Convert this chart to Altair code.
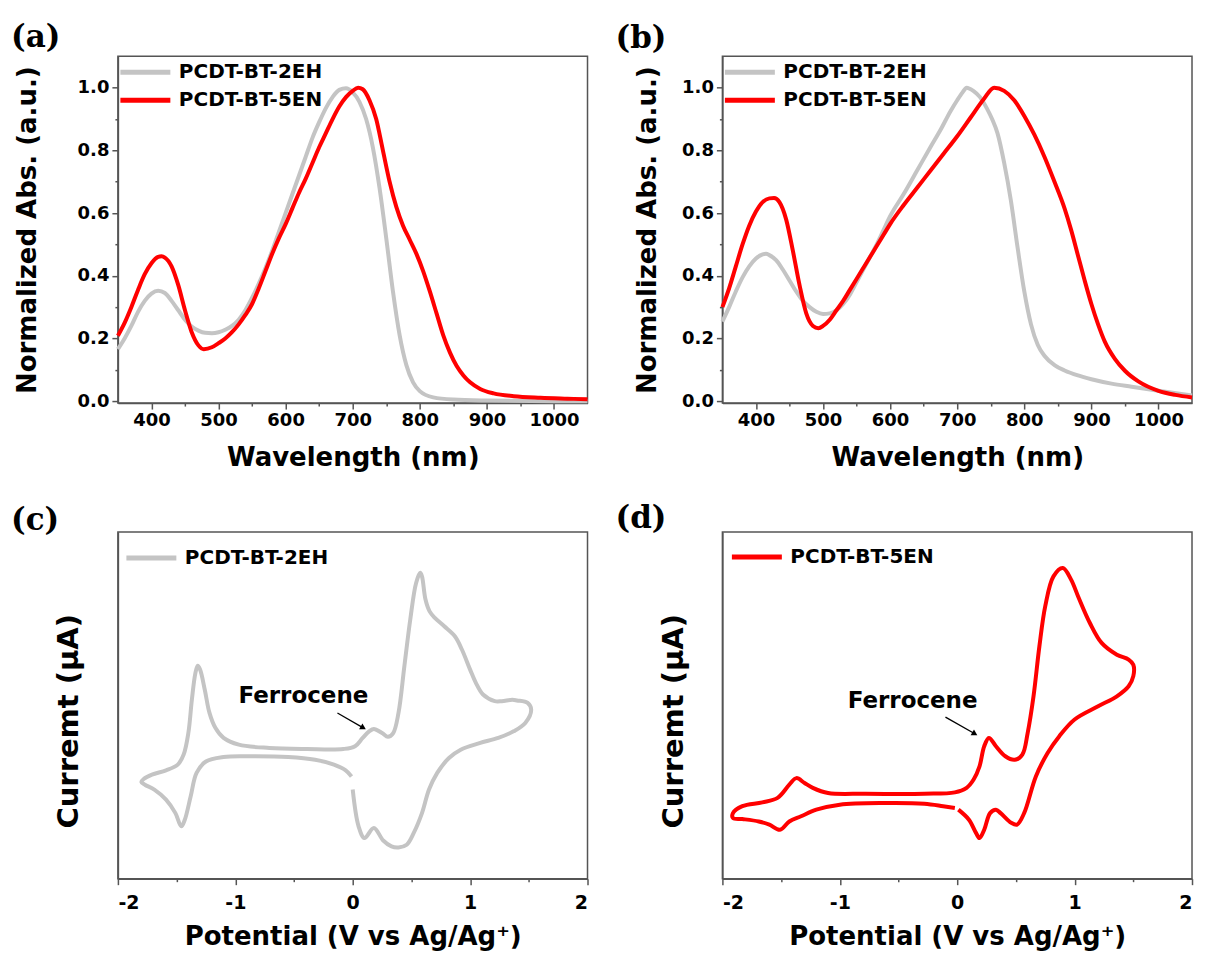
import altair as alt
import pandas as pd

S_2EH = "PCDT-BT-2EH"
S_5EN = "PCDT-BT-5EN"
GRAY = "#c4c4c4"
RED = "#ff0000"
FONT = "DejaVu Sans"

# ---------------- (a) absorption ----------------
a_2eh_wl = [350, 360, 370, 380, 390, 400, 410, 420, 430, 440, 450, 460, 470, 480, 490, 500,
            510, 520, 530, 540, 550, 560, 570, 580, 590, 600, 610, 620, 630, 640, 650, 660,
            670, 680, 690, 700, 710, 720, 730, 740, 750, 760, 770, 780, 790, 800, 820, 850,
            900, 1000, 1050]
a_2eh_abs = [0.166, 0.20, 0.24, 0.285, 0.32, 0.343, 0.352, 0.345, 0.32, 0.29, 0.26, 0.238,
             0.225, 0.218, 0.217, 0.22, 0.228, 0.24, 0.26, 0.29, 0.33, 0.375, 0.425, 0.48,
             0.54, 0.60, 0.66, 0.72, 0.78, 0.84, 0.89, 0.935, 0.97, 0.993, 0.998, 0.985,
             0.955, 0.90, 0.81, 0.68, 0.52, 0.35, 0.21, 0.115, 0.06, 0.032, 0.012, 0.005,
             0.002, 0.0, 0.0]
a_5en_wl = [350, 360, 370, 380, 390, 400, 410, 415, 420, 430, 440, 450, 460, 470, 478, 490,
            500, 510, 520, 530, 540, 550, 560, 570, 580, 590, 600, 610, 620, 630, 640, 650,
            660, 670, 680, 690, 700, 708, 715, 725, 735, 745, 755, 765, 775, 785, 795, 805,
            815, 825, 835, 845, 855, 865, 875, 890, 910, 940, 980, 1020, 1050]
a_5en_abs = [0.209, 0.25, 0.30, 0.355, 0.405, 0.44, 0.46, 0.462, 0.458, 0.43, 0.37, 0.29,
             0.22, 0.178, 0.166, 0.172, 0.185, 0.20, 0.22, 0.245, 0.275, 0.31, 0.36, 0.415,
             0.47, 0.52, 0.565, 0.615, 0.665, 0.71, 0.76, 0.81, 0.855, 0.90, 0.94, 0.97,
             0.99, 1.0, 0.995, 0.96, 0.90, 0.80, 0.70, 0.62, 0.56, 0.515, 0.47, 0.415,
             0.35, 0.28, 0.21, 0.155, 0.112, 0.082, 0.06, 0.039, 0.025, 0.016, 0.011,
             0.008, 0.006]

# ---------------- (b) absorption ----------------
b_2eh_wl = [350, 360, 370, 380, 390, 400, 410, 415, 420, 430, 440, 450, 460, 470, 480, 490,
            500, 510, 520, 530, 540, 550, 560, 570, 580, 590, 600, 620, 640, 660, 675, 690,
            700, 708, 714, 724, 734, 744, 752, 760, 770, 780, 790, 800, 810, 820, 830, 845,
            860, 880, 900, 930, 960, 1000, 1050]
b_2eh_abs = [0.254, 0.30, 0.35, 0.395, 0.43, 0.455, 0.468, 0.47, 0.466, 0.45, 0.42, 0.385,
             0.35, 0.32, 0.30, 0.285, 0.278, 0.28, 0.29, 0.31, 0.34, 0.38, 0.42, 0.46, 0.50,
             0.545, 0.59, 0.66, 0.735, 0.81, 0.865, 0.925, 0.96, 0.985, 1.0, 0.99, 0.97,
             0.935, 0.90, 0.855, 0.76, 0.64, 0.49, 0.35, 0.245, 0.18, 0.145, 0.115, 0.098,
             0.082, 0.07, 0.056, 0.046, 0.033, 0.018]
b_5en_wl = [350, 360, 370, 380, 390, 400, 410, 420, 427, 435, 445, 455, 465, 475, 485, 493,
            500, 510, 520, 530, 540, 550, 560, 570, 580, 590, 600, 620, 640, 660, 680, 700,
            720, 740, 755, 770, 785, 800, 815, 830, 845, 860, 870, 880, 890, 900, 910, 920,
            935, 950, 970, 1000, 1025, 1050]
b_5en_abs = [0.30, 0.36, 0.43, 0.50, 0.56, 0.605, 0.635, 0.647, 0.648, 0.635, 0.58, 0.48,
             0.37, 0.28, 0.24, 0.233, 0.24, 0.26, 0.29, 0.32, 0.355, 0.39, 0.425, 0.46,
             0.495, 0.53, 0.565, 0.625, 0.68, 0.735, 0.79, 0.845, 0.905, 0.965, 1.0, 0.99,
             0.96, 0.91, 0.85, 0.78, 0.70, 0.615, 0.545, 0.465, 0.385, 0.31, 0.245, 0.19,
             0.135, 0.097, 0.063, 0.033, 0.02, 0.012]

# ---------------- (c) cyclic voltammogram, PCDT-BT-2EH ----------------
c_potential = [0.0, 0.05, 0.10, 0.18, 0.26, 0.33, 0.39, 0.46, 0.52, 0.59, 0.65, 0.72, 0.82,
               0.92, 1.08, 1.24, 1.37, 1.47, 1.52, 1.49, 1.40, 1.36, 1.27, 1.21, 1.11, 1.05,
               1.0, 0.93, 0.87, 0.78, 0.70, 0.655, 0.62, 0.59, 0.575, 0.54, 0.49, 0.44, 0.39,
               0.345, 0.30, 0.25, 0.18, 0.14, 0.085, 0.02, -0.08, -0.39, -0.71, -0.97, -1.10,
               -1.17, -1.22, -1.26, -1.30, -1.32, -1.34, -1.37, -1.40, -1.44, -1.49, -1.59,
               -1.71, -1.78, -1.80, -1.77, -1.69, -1.59, -1.51, -1.46, -1.43, -1.38, -1.33,
               -1.25, -1.10, -0.88, -0.55, -0.32, -0.16, -0.06, -0.01]
c_current = [25.7, 15.1, 11.7, 14.6, 11.0, 9.3, 9.0, 9.8, 13.2, 18.9, 25.7, 30.5, 34.8, 37.2,
             39.1, 40.6, 42.5, 44.9, 48.75, 50.7, 51.4, 51.6, 51.2, 51.2, 53.1, 56.4, 60.3,
             66.1, 69.9, 72.8, 75.2, 77.1, 80.5, 87.2, 88.2, 85.3, 74.7, 61.25, 47.8, 42.0,
             40.9, 42.0, 43.2, 42.5, 40.6, 38.2, 37.4, 37.4, 37.7, 38.65, 40.6, 43.5, 47.8,
             54.5, 60.3, 61.4, 59.3, 51.6, 42.0, 35.8, 32.9, 31.25, 30.0, 28.75, 27.9, 27.1,
             25.7, 22.8, 18.9, 15.1, 17.0, 23.75, 30.5, 33.8, 35.1, 35.3, 35.1, 34.3, 32.9,
             31.25, 29.5]

# ---------------- (d) cyclic voltammogram, PCDT-BT-5EN ----------------
d_potential = [0.01, 0.10, 0.16, 0.19, 0.23, 0.28, 0.33, 0.37, 0.46, 0.51, 0.57, 0.67, 0.77,
               0.87, 1.0, 1.20, 1.36, 1.46, 1.50, 1.50, 1.46, 1.36, 1.23, 1.13, 1.03, 0.97,
               0.90, 0.82, 0.75, 0.70, 0.65, 0.60, 0.555, 0.49, 0.41, 0.33, 0.27, 0.23, 0.19,
               0.14, 0.08, -0.02, -0.28, -0.78, -1.10, -1.23, -1.30, -1.37, -1.43, -1.53,
               -1.66, -1.83, -1.91, -1.91, -1.83, -1.69, -1.60, -1.51, -1.43, -1.33, -1.20,
               -1.0, -0.61, -0.28, -0.12, -0.02]
d_current = [19.9, 17.0, 13.2, 11.7, 14.1, 18.9, 19.9, 18.9, 16.1, 15.6, 18.9, 29.5, 36.25,
             41.1, 45.9, 49.7, 52.6, 55.5, 58.4, 61.7, 63.2, 64.6, 68.0, 73.75, 81.4, 86.25,
             89.6, 87.2, 78.6, 67.0, 52.6, 42.0, 35.8, 34.3, 35.3, 38.2, 40.6, 38.2, 32.4,
             28.6, 26.2, 24.9, 24.5, 24.5, 24.7, 26.2, 27.6, 29.0, 27.1, 23.3, 22.0, 20.9,
             18.9, 17.5, 17.2, 16.5, 15.6, 14.1, 16.5, 18.0, 19.9, 21.35, 21.8, 21.6, 20.9,
             20.4]

# ferrocene annotations: label position and arrow (start -> end)
c_note = {"v": [-0.42], "i": [52.6], "label": ["Ferrocene"]}
c_arrow = {"v": [-0.13], "i": [47.8], "v2": [0.09], "i2": [43.5]}
d_note = {"v": [-0.38], "i": [51.2], "label": ["Ferrocene"]}
d_arrow = {"v": [-0.10], "i": [46.6], "v2": [0.15], "i2": [41.8]}

PANEL_LABELS = ["(a)", "(b)", "(c)", "(d)"]

WL_TICKS = list(range(400, 1001, 50))
ABS_TICKS = [round(i * 0.1, 1) for i in range(0, 11)]
V_TICKS = [-2, -1.5, -1, -0.5, 0, 0.5, 1, 1.5, 2]

W, H = 470, 347


def legend(x, y):
    return alt.Legend(
        orient="none", legendX=x, legendY=y, direction="vertical",
        symbolType="stroke", symbolStrokeWidth=5, symbolSize=2500, clipHeight=28,
        labelFont=FONT, labelFontSize=20, labelFontWeight="bold", labelColor="black",
        labelLimit=400, labelOffset=6, rowPadding=0, padding=0,
    )


def panel_label(text, y):
    return alt.Chart(pd.DataFrame({"label": [text]})).mark_text(
        font="DejaVu Serif", fontWeight="bold", fontSize=31, color="black",
        align="left", baseline="alphabetic",
    ).encode(x=alt.value(-107), y=alt.value(y), text="label:N")


def spectrum(wl1, ab1, wl2, ab2, label, ly, ytp):
    df = pd.DataFrame({
        "wl": wl1 + wl2,
        "abs": ab1 + ab2,
        "series": [S_2EH] * len(wl1) + [S_5EN] * len(wl2),
    })
    x_axis = alt.Axis(
        values=WL_TICKS, format="d", title="Wavelength (nm)", grid=False,
        labelExpr="datum.value % 100 === 0 ? datum.label : ''",
        tickSize={"condition": {"test": "datum.value % 100 === 0", "value": 6}, "value": 3},
        labelFontSize=18, labelPadding=2, titleFontSize=26, titlePadding=15,
    )
    y_axis = alt.Axis(
        values=ABS_TICKS, format=".1f", title="Normalized Abs. (a.u.)", grid=False,
        labelExpr="round(datum.value * 10) % 2 === 0 ? datum.label : ''",
        tickSize={"condition": {"test": "round(datum.value * 10) % 2 === 0", "value": 6},
                  "value": 3},
        labelFontSize=18, labelPadding=3, titleFontSize=26, titlePadding=ytp,
    )
    lines = alt.Chart(df).mark_line(strokeWidth=4, interpolate="monotone").encode(
        x=alt.X("wl:Q", scale=alt.Scale(domain=[350, 1050], nice=False, zero=False), axis=x_axis),
        y=alt.Y("abs:Q", scale=alt.Scale(domain=[-0.006, 1.1], nice=False), axis=y_axis),
        color=alt.Color("series:N", title=None,
                        scale=alt.Scale(domain=[S_2EH, S_5EN], range=[GRAY, RED]),
                        legend=legend(0, 2)),
    )
    return alt.layer(lines, panel_label(label, ly)).properties(width=W, height=H)


def cv(pot, cur, series, color, note, arrow, label, ly, lx, lyy):
    df = pd.DataFrame({"v": pot, "i": cur, "order": list(range(len(pot))),
                       "series": [series] * len(pot)})
    x_axis = alt.Axis(
        values=V_TICKS, title="Potential (V vs Ag/Ag\u207a)", grid=False,
        labelExpr="datum.value % 1 === 0 ? '' + datum.value : ''",
        tickSize={"condition": {"test": "datum.value % 1 === 0", "value": 6}, "value": 3},
        labelFontSize=19, labelPadding=9, titleFontSize=26, titlePadding=11,
    )
    y_axis = alt.Axis(labels=False, ticks=False, grid=False, title="Curremt (\u03bcA)",
                      titleFontSize=29, titlePadding=34, titleY=189)
    xs = alt.Scale(domain=[-2, 2], nice=False, zero=False)
    ys = alt.Scale(domain=[0, 100], nice=False, zero=False)
    line = alt.Chart(df).mark_line(strokeWidth=4, interpolate="catmull-rom").encode(
        x=alt.X("v:Q", scale=xs, axis=x_axis),
        y=alt.Y("i:Q", scale=ys, axis=y_axis),
        order=alt.Order("order:Q"),
        color=alt.Color("series:N", title=None,
                        scale=alt.Scale(domain=[series], range=[color]),
                        legend=legend(lx, lyy)),
    )
    adf = pd.DataFrame(arrow)
    shaft = alt.Chart(adf).mark_rule(color="black", strokeWidth=1.3).encode(
        x=alt.X("v:Q", scale=xs), y=alt.Y("i:Q", scale=ys), x2="v2:Q", y2="i2:Q")
    head = alt.Chart(adf).mark_point(shape="triangle-right", filled=True, size=45, angle=30,
                                     color="black", opacity=1).encode(
        x=alt.X("v2:Q", scale=xs), y=alt.Y("i2:Q", scale=ys))
    text = alt.Chart(pd.DataFrame(note)).mark_text(
        font=FONT, fontWeight="bold", fontSize=23, color="black").encode(
        x=alt.X("v:Q", scale=xs), y=alt.Y("i:Q", scale=ys), text="label:N")
    return alt.layer(line, shaft, head, text, panel_label(label, ly)).properties(
        width=W, height=H)


pa = spectrum(a_2eh_wl, a_2eh_abs, a_5en_wl, a_5en_abs, PANEL_LABELS[0], -9, 37)
pb = spectrum(b_2eh_wl, b_2eh_abs, b_5en_wl, b_5en_abs, PANEL_LABELS[1], -8, 21)
pc = cv(c_potential, c_current, S_2EH, GRAY, c_note, c_arrow, PANEL_LABELS[2], -2, 6, 12)
pd_ = cv(d_potential, d_current, S_5EN, RED, d_note, d_arrow, PANEL_LABELS[3], -4, 7, 11)

chart = alt.concat(
    pa, pb, pc, pd_, columns=2, spacing={"row": 129, "column": 135}, bounds="flush"
).resolve_scale(
    color="independent"
).properties(
    padding={"left": 10, "top": 21, "right": 4, "bottom": 4}, background="white"
).configure_view(
    stroke="#555555", strokeWidth=1.5
).configure_axis(
    domainColor="#555555", domainWidth=1.5, tickColor="#555555", tickWidth=1.5,
    labelFont=FONT, labelFontWeight="bold", labelColor="black",
    titleFont=FONT, titleFontWeight="bold", titleColor="black",
)

chart.save("out.html", embed_options={"renderer": "svg", "actions": False})
